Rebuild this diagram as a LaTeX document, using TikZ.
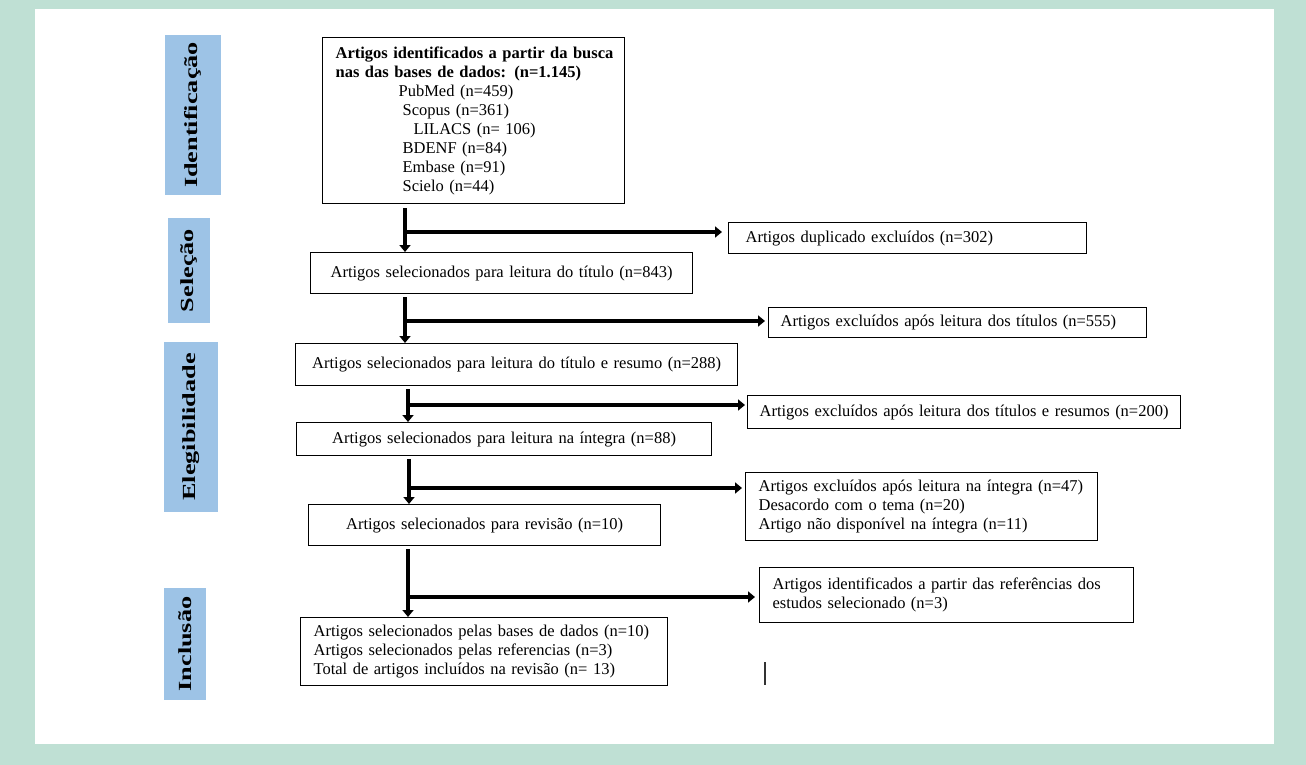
\documentclass[tikz,border=0pt]{standalone}
\usepackage{fontspec}
\usepackage{graphicx}
\setmainfont{Liberation Serif}
\usetikzlibrary{arrows.meta,calc}
\definecolor{mint}{RGB}{191,224,212}
\definecolor{lblue}{RGB}{157,195,230}
\newcommand\mainfs{\fontsize{16.5}{19}\selectfont}
\newcommand\lblfs{\fontsize{18.5}{18.5}\selectfont\bfseries}
\begin{document}
\begin{tikzpicture}[x=1pt,y=-1pt,
  box/.style={draw=black,line width=1.2pt,fill=white,inner ysep=0pt,font=\mainfs,anchor=north west},
  lbox/.style={box,align=left,inner xsep=#1pt},
  cbox/.style={box,align=center,inner xsep=0pt},
  lbl/.style={fill=lblue,inner sep=0pt,rotate=90},
  arr/.style={line width=4pt,-{Triangle[width=11pt,length=7pt]}},
  stray/.style={line width=1.6pt,draw=black!80}
]
\useasboundingbox (0,0) rectangle (1306,765);
\fill[mint] (0,0) rectangle (1306,765);
\fill[white] (35,9) rectangle (1274,744);

% stage labels
\node[lbl,minimum width=160pt,minimum height=56pt] (lid) at (193,115) {\scalebox{1.42}[1]{\lblfs Identificação}};
\node[lbl,minimum width=105pt,minimum height=42pt] (lsel) at (189,270.5) {\scalebox{1.42}[1]{\lblfs Seleção}};
\node[lbl,minimum width=170pt,minimum height=54pt] (lel) at (191,427) {\scalebox{1.42}[1]{\lblfs Elegibilidade}};
\node[lbl,minimum width=112pt,minimum height=42pt] (lin) at (185,644) {\scalebox{1.42}[1]{\lblfs Inclusão}};

% main column
\node[lbox=13,text width=276pt,minimum height=166pt] (B1) at (322,37) {%
\mbox{\textbf{Artigos identificados a partir da busca}}\\
\mbox{\textbf{nas das bases de dados: (n=1.145)}}\\
\hspace*{63pt}\mbox{PubMed (n=459)}\\
\hspace*{67pt}\mbox{Scopus (n=361)}\\
\hspace*{78pt}\mbox{LILACS (n= 106)}\\
\hspace*{67pt}\mbox{BDENF (n=84)}\\
\hspace*{67pt}\mbox{Embase (n=91)}\\
\hspace*{67pt}\mbox{Scielo (n=44)}};
\node[cbox,text width=382pt,minimum height=41pt] (B2) at (310,252) {\mbox{Artigos selecionados para leitura do título (n=843)}};
\node[cbox,text width=442pt,minimum height=42pt] (B3) at (295,343) {\mbox{Artigos selecionados para leitura do título e resumo (n=288)}};
\node[cbox,text width=415pt,minimum height=33pt] (B4) at (296,422) {\mbox{Artigos selecionados para leitura na íntegra (n=88)}};
\node[cbox,text width=352pt,minimum height=41pt] (B5) at (308,504) {\mbox{Artigos selecionados para revisão (n=10)}};
\node[lbox=13,text width=341pt,minimum height=68pt] (B6) at (300,617) {%
\mbox{Artigos selecionados pelas bases de dados (n=10)}\\
\mbox{Artigos selecionados pelas referencias (n=3)}\\
\mbox{Total de artigos incluídos na revisão (n= 13)}};

% side boxes
\node[lbox=17,text width=324pt,minimum height=31pt] (dup) at (728,222) {\mbox{Artigos duplicado excluídos (n=302)}};
\node[lbox=12,text width=354pt,minimum height=30pt] (t555) at (768,307) {\mbox{Artigos excluídos após leitura dos títulos (n=555)}};
\node[lbox=12,text width=409pt,minimum height=33pt] (t200) at (747,395) {\mbox{Artigos excluídos após leitura dos títulos e resumos (n=200)}};
\node[lbox=13,text width=326pt,minimum height=68pt] (t47) at (745,472) {%
\mbox{Artigos excluídos após leitura na íntegra (n=47)}\\
\mbox{Desacordo com o tema (n=20)}\\
\mbox{Artigo não disponível na íntegra (n=11)}};
\node[lbox=13,text width=348pt,minimum height=55pt] (ref) at (759,567) {%
\mbox{Artigos identificados a partir das referências dos}\\
\mbox{estudos selecionado (n=3)}};

% connectors
\coordinate (s1) at (405,208);
\coordinate (b1) at (405,232);
\draw[arr] (s1) -- (s1 |- B2.north);
\draw[arr] (b1) -- ($(dup.west |- b1)+(-6,0)$);

\coordinate (s2) at (405,297);
\coordinate (b2) at (405,321);
\draw[arr] (s2) -- (s2 |- B3.north);
\draw[arr] (b2) -- ($(t555.west |- b2)+(-3,0)$);

\coordinate (s3) at (408,389);
\coordinate (b3) at (408,405);
\draw[arr] (s3) -- (s3 |- B4.north);
\draw[arr] (b3) -- ($(t200.west |- b3)+(-2,0)$);

\coordinate (s4) at (409,459);
\coordinate (b4) at (409,488);
\draw[arr] (s4) -- (s4 |- B5.north);
\draw[arr] (b4) -- ($(t47.west |- b4)+(-3,0)$);

\coordinate (s5) at (408,549);
\coordinate (b5) at (408,597);
\draw[arr] (s5) -- (s5 |- B6.north);
\draw[arr] (b5) -- ($(ref.west |- b5)+(-4,0)$);

% stray mark
\coordinate (m1) at (765,662);
\coordinate (m2) at (765,685);
\draw[stray] (m1) -- (m2);
\end{tikzpicture}
\end{document}
